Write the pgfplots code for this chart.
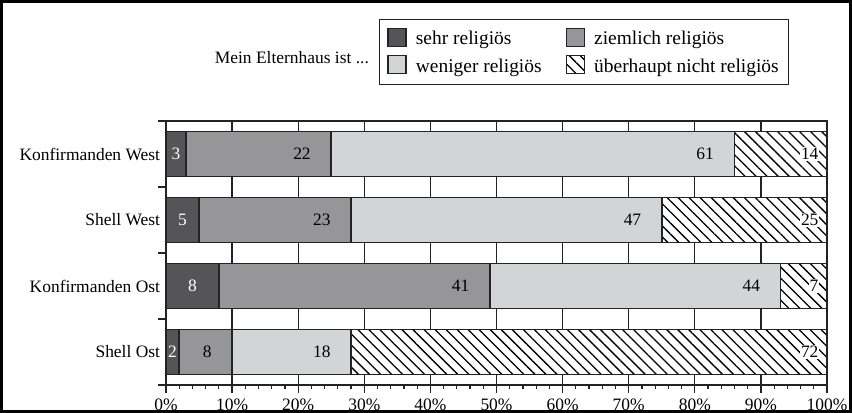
\documentclass[border=0pt]{standalone}
\usepackage{fontspec}
\setmainfont{Liberation Serif}
\usepackage{pgfplots}
\usepackage{pgfplotstable}
\pgfplotsset{compat=1.18}
\usetikzlibrary{patterns.meta}

\definecolor{sehr}{RGB}{85,85,87}
\definecolor{ziemlich}{RGB}{150,150,153}
\definecolor{weniger}{RGB}{211,212,214}
\definecolor{edge}{RGB}{35,35,35}

% y: 0 = Shell Ost ... 3 = Konfirmanden West
\pgfplotstableread{
y a  b  c  d
0 2  8  18 72
1 8  41 44 7
2 5  23 47 25
3 3  22 61 14
}\religion

\begin{document}
\fontsize{17.5}{21}\selectfont
\begin{tikzpicture}
\begin{axis}[
  scale only axis,
  width=661bp, height=264bp,
  xbar stacked,
  bar width=45bp,
  xmin=0, xmax=100,
  ymin=-0.5, ymax=3.5,
  clip=false,
  axis line style={edge, line width=1.3bp},
  tick style={edge, line width=1.2bp},
  tick align=outside,
  major tick length=8bp,
  minor tick length=4bp,
  xtick={0,10,...,100},
  minor x tick num=4,
  xtick pos=bottom,
  xticklabel={\pgfmathprintnumber{\tick}\%},
  xmajorgrids,
  grid style={edge, line width=1.2bp},
  ytick={-0.5,0.5,1.5,2.5,3.5},
  yticklabels={},
  ytick pos=left,
  extra y ticks={0,1,2,3},
  extra y tick labels={Shell Ost,Konfirmanden Ost,Shell West,Konfirmanden West},
  extra y tick style={major tick length=0pt, tick style={draw=none}, grid=none},
  /pgf/number format/assume math mode=true,
  point meta=explicit,
  legend columns=2,
  legend cell align=left,
  legend style={at={(0.322,1.386)}, anchor=north west, draw=edge, line width=1bp,
    font=\fontsize{19.5}{23}\selectfont,
    inner xsep=8bp, inner ysep=8bp, row sep=6bp,
    /tikz/every even column/.append style={column sep=22bp}},
  legend image code/.code={\draw[#1, line width=1.2bp] (0bp,-7bp) rectangle (18bp,11bp);
    \pgfpathmoveto{\pgfqpoint{26bp}{2bp}}\pgfusepath{discard}},
]
\addplot[fill=sehr, draw=edge, line width=1.5bp,
  nodes near coords,
  every node near coord/.append style={anchor=center, text=white}]
  table[x=a, y=y, meta=a]{\religion};
\addplot[fill=ziemlich, draw=edge, line width=1.5bp,
  visualization depends on={\thisrow{b} \as \vb},
  nodes near coords,
  every node near coord/.append style={anchor=east, text=black, xshift=\vb*3.305bp-14bp}]
  table[x=b, y=y, meta=b]{\religion};
\addplot[fill=weniger, draw=edge, line width=1.5bp,
  visualization depends on={\thisrow{c} \as \vc},
  nodes near coords,
  every node near coord/.append style={anchor=east, text=black, xshift=\vc*3.305bp-14bp}]
  table[x=c, y=y, meta=c]{\religion};
\addplot[fill=white, draw=edge, line width=1.5bp,
  postaction={pattern={Lines[angle=-45, distance=7.8bp, line width=1.3bp]}},
  visualization depends on={\thisrow{d} \as \vd},
  nodes near coords,
  every node near coord/.append style={anchor=east, text=black, xshift=\vd*3.305bp-7bp,
    fill=white, inner sep=0.8bp}]
  table[x=d, y=y, meta=d]{\religion};
\legend{sehr religiös, ziemlich religiös, weniger religiös, überhaupt nicht religiös}
\node[anchor=east] at (rel axis cs:0.316,1.242) {Mein Elternhaus ist ...};
\end{axis}
\pgfresetboundingbox
\path[use as bounding box] (-166bp,-28bp) rectangle (686bp,385bp);
\draw[black, line width=3bp] (-164bp,-26bp) rectangle (684bp,383bp);
\end{tikzpicture}
\end{document}
